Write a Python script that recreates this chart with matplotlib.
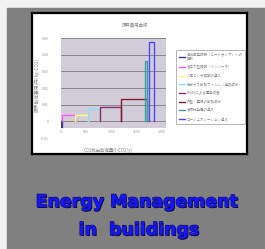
import matplotlib
matplotlib.use('Agg')
import matplotlib.pyplot as plt
import matplotlib.patheffects as pe
from matplotlib.patches import Rectangle

plt.rcParams['font.family'] = ['Noto Sans CJK JP', 'DejaVu Sans']

# data (marginal abatement cost curve)
measures = ['高効率空調機（ヒートポンプ）への\n更新', '省エネ型照明（インバータ）',
            '人感センサ照明の導入', '窓ガラス断熱フィルム（遮熱改修）',
            'BEMSによる運用改善', '外壁・屋根の断熱改修',
            '太陽光発電の導入', 'コージェネレーション導入']
starts = [0, 20, 277, 535, 772, 1188, 1660, 1740]
widths = [15, 257, 258, 237, 416, 515, 45, 100]
heights = [-0.0035, 0.0036, 0.004, 0.0072, 0.0084, 0.0132, 0.036, 0.0474]
colors = ['#3a3a90', '#ff55ff', '#ffff70', '#80e0ff', '#8a2a6a', '#8b1a2a', '#3aa0a0', '#4848ff']

yticks = [-0.01, 0, 0.01, 0.02, 0.03, 0.04, 0.05]
ytick_labels = ['-0.01', '0', '0.01', '0.02', '0.03', '0.04', '0.05']
xticks = [0, 500, 1000, 1500, 2000]
xtick_labels = ['0', '500', '1000', '1500', '2000']

W, H = 265, 249


def box(x0, y0, x1, y1):
    return [x0 / W, 1 - y1 / H, (x1 - x0) / W, (y1 - y0) / H]


fig = plt.figure(figsize=(W / 100, H / 100), dpi=100, facecolor='#f2f2f2')
fig.patches.append(Rectangle((7 / W, 0), (W - 7) / W, (H - 8) / H,
                             transform=fig.transFigure, color='#808080', zorder=-5))

# the chart "card"
card = fig.add_axes(box(32, 13, 247, 154))
card.set_facecolor('white')
card.set_xticks([])
card.set_yticks([])
for s in card.spines.values():
    s.set_linewidth(1.6)
    s.set_color('black')

ax = fig.add_axes(box(61, 38, 166, 138))
ax.patch.set_alpha(0)
ax.set_xlim(0, 2080)
ax.set_ylim(-0.01, 0.05)
ax.axhspan(-0.004, 0.05, color='#d3ccd9', zorder=0, lw=0)
for g in yticks[1:]:
    ax.axhline(g, color='#7a7a7a', lw=0.6, zorder=1)

handles = []
for x0, w, h, c in zip(starts, widths, heights, colors):
    ln, = ax.plot([x0, x0, x0 + w, x0 + w], [0, h, h, 0], color=c, lw=1.0, zorder=3)
    handles.append(ln)

for s in ax.spines.values():
    s.set_visible(False)
ax.set_yticks(yticks)
ax.set_yticklabels(ytick_labels)
ax.set_xticks(xticks)
ax.set_xticklabels(xtick_labels)
ax.tick_params(axis='y', length=0, pad=9, labelsize=2.6, labelcolor='#999999')
ax.tick_params(axis='x', length=0, pad=-6, labelsize=2.6, labelcolor='#999999')

fig.text(135 / W, 1 - 25 / H, '限界費用曲線', ha='center', va='center',
         fontsize=3.2, color='#888888')
fig.text(108 / W, 1 - 150 / H, 'CO2排出削減量(t-CO2/y)', ha='center', va='center',
         fontsize=3.2, color='#888888')
fig.text(37 / W, 1 - 85 / H, '限界削減費用(円/kg-CO2)', ha='center', va='center',
         rotation=90, fontsize=3.4, color='#888888')

leg = ax.legend(handles, measures, loc='upper left',
                bbox_to_anchor=(174 / W, 1 - 48 / H), bbox_transform=fig.transFigure,
                fontsize=2.5, handlelength=1.8, handletextpad=0.5, labelspacing=1.3,
                borderpad=0.8, fancybox=False, framealpha=1, edgecolor='#aaaaaa')
leg.get_frame().set_linewidth(0.6)
for t in leg.get_texts():
    t.set_color('#888888')

outline = [pe.SimplePatchShadow(offset=(0.7, -0.7), shadow_rgbFace='#00002a', alpha=1),
           pe.withStroke(linewidth=0.9, foreground='#14145a')]
fig.text(137 / W, 1 - 202 / H, 'Energy Management', ha='center', va='center',
         fontsize=12.5, weight='bold', family='DejaVu Sans', color='#1414ff',
         path_effects=outline)
fig.text(139 / W, 1 - 230 / H, 'in  buildings', ha='center', va='center',
         fontsize=12.5, weight='bold', family='DejaVu Sans', color='#1414ff',
         path_effects=outline)

fig.savefig('out.png', dpi=100, facecolor=fig.get_facecolor())
